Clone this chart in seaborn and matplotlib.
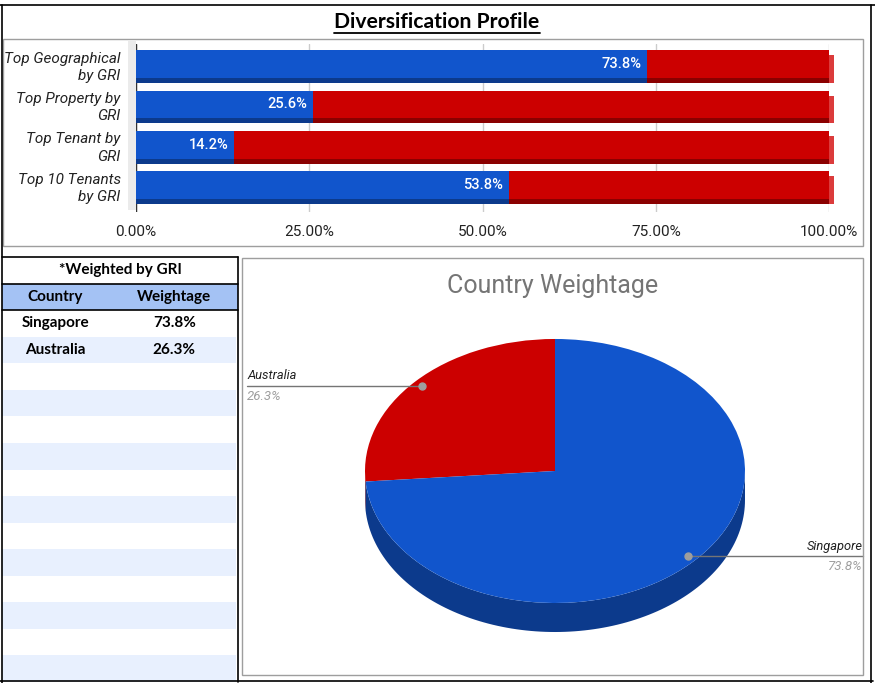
import numpy as np
import seaborn as sns
import matplotlib.pyplot as plt
from matplotlib import transforms
from matplotlib.lines import Line2D
from matplotlib.patches import Rectangle

# ---- data ----
metric_labels = ["Top Geographical\nby GRI", "Top Property by\nGRI",
                 "Top Tenant by\nGRI", "Top 10 Tenants\nby GRI"]
top_pct = [73.8, 25.6, 14.2, 53.8]
full_pct = [100.0, 100.0, 100.0, 100.0]
x_ticks = [0, 25, 50, 75, 100]
x_tick_labels = ["0.00%", "25.00%", "50.00%", "75.00%", "100.00%"]

pie_countries = ["Australia", "Singapore"]
pie_weights = [26.3, 73.8]

table_title = "*Weighted by GRI"
table_header = ["Country", "Weightage"]
table_countries = ["Singapore", "Australia"]
table_weights = [73.8, 26.3]
table_empty_rows = 12

BLUE = "#1155cc"
BLUE_DARK = "#0c3a8c"
RED = "#cc0000"
RED_DARK = "#8a0000"
RED_SIDE = "#db3b3b"
HEADER_BLUE = "#a4c2f4"
STRIPE = "#e8f0fe"
TEXT = "#222222"

W, H = 875, 683

sns.set_style("white")
plt.rcParams["font.family"] = ["Roboto", "DejaVu Sans"]
SHEET_FONT = ["Lato", "DejaVu Sans"]

fig = plt.figure(figsize=(W / 100, H / 100), dpi=100)


def px_axes(x0, y0, x1, y1):
    return fig.add_axes([x0 / W, 1 - y1 / H, (x1 - x0) / W, (y1 - y0) / H])


def px_line(xs, ys, **kw):
    fig.add_artist(Line2D([x / W for x in xs], [1 - y / H for y in ys],
                          transform=fig.transFigure, **kw))


def px_rect(x0, y0, x1, y1, **kw):
    fig.add_artist(Rectangle((x0 / W, 1 - y1 / H), (x1 - x0) / W, (y1 - y0) / H,
                             transform=fig.transFigure, **kw))


# sheet borders and chart frames
px_line([0, 875], [5, 5], color="black", lw=1.2)
px_line([2, 2], [5, 683], color="black", lw=1.2)
px_line([871, 871], [5, 683], color="black", lw=1.2)
px_line([0, 873], [681, 681], color="black", lw=1.2)
px_rect(3, 39, 863, 246, fill=False, ec="#9e9e9e", lw=1)
px_rect(242, 258, 863, 675, fill=False, ec="#9e9e9e", lw=1)
px_rect(128, 41, 136, 210, fc="#ebebeb", lw=0, zorder=-1)

title = fig.text(437 / W, 1 - 22 / H, "Diversification Profile", ha="center", va="center",
                 fontsize=15.2, fontweight="bold", family=SHEET_FONT, color="black")

# ---- stacked 3D-ish bar chart ----
ax = px_axes(136, 44, 829, 212)
ax.set_facecolor("none")
layers = [
    (full_pct, RED_SIDE, (5, -5)),
    (full_pct, RED_DARK, (0, -5)),
    (full_pct, RED, (0, 0)),
    (top_pct, BLUE_DARK, (0, -5)),
    (top_pct, BLUE, (0, 0)),
]
for values, colour, (dx, dy) in layers:
    n = len(ax.patches)
    sns.barplot(x=values, y=metric_labels, orient="h", color=colour, saturation=1,
                width=0.69, linewidth=0, errorbar=None, ax=ax)
    shift = transforms.offset_copy(ax.transData, fig=fig, x=dx, y=dy, units="dots")
    for p in ax.patches[n:]:
        p.set_transform(shift)
        p.set_clip_on(False)

lab_shift = transforms.offset_copy(ax.transData, fig=fig, x=-6, y=0, units="dots")
for i, v in enumerate(top_pct):
    ax.text(v, i, f"{v:.1f}%", transform=lab_shift, ha="right", va="center",
            color="white", fontsize=10.5, fontweight="medium")

ax.set_xlim(0, 100)
ax.set_ylim(3.669, -0.5)
ax.set_xticks(x_ticks, x_tick_labels)
ax.xaxis.grid(True, color="#cccccc", lw=1)
ax.yaxis.grid(False)
ax.set_axisbelow(True)
ax.axvline(0, color="#333333", lw=1, zorder=0.6)
ax.tick_params(axis="x", length=0, pad=9, labelsize=11, labelcolor=TEXT)
ax.tick_params(axis="y", length=0, pad=11, labelsize=11, labelcolor=TEXT)
for t in ax.get_yticklabels():
    t.set_fontstyle("italic")
    t.set_linespacing(1.3)
ax.set_xlabel("")
ax.set_ylabel("")
sns.despine(ax=ax, left=True, bottom=True)

# ---- table ----
tax = px_axes(2, 257, 238, 682)
n_rows = 2 + len(table_countries) + table_empty_rows
tax.set_xlim(0, 1)
tax.set_ylim(n_rows, 0)
tax.axis("off")
tax.axhspan(1, 2, color=HEADER_BLUE, lw=0)
for r in range(2, n_rows):
    if (r - 2) % 2 == 1:
        tax.axhspan(r, r + 1, xmax=0.99, color=STRIPE, lw=0)
for y in (0, 1, 2):
    tax.axhline(y, color="black", lw=1.2, clip_on=False)
tax.axvline(1, color="black", lw=1.2, clip_on=False)

cell_kw = dict(ha="center", va="center", fontsize=11, fontweight="bold",
               family=SHEET_FONT, color="black")
col_x = [0.225, 0.73]
tax.text(0.5, 0.5, table_title, **cell_kw)
for cx, h in zip(col_x, table_header):
    tax.text(cx, 1.5, h, **cell_kw)
for r, (name, w) in enumerate(zip(table_countries, table_weights), start=2):
    tax.text(col_x[0], r + 0.5, name, **cell_kw)
    tax.text(col_x[1], r + 0.5, f"{w:.1f}%", **cell_kw)

# ---- 3D pie ----
fig.text(553 / W, 1 - 286 / H, "Country Weightage", ha="center", va="center",
         fontsize=18, color="#757575")
pax = px_axes(340, 330, 770, 650)
wedges, _ = pax.pie(pie_weights, colors=[RED, BLUE], startangle=90, counterclock=True,
                    wedgeprops=dict(linewidth=0))
pax.set_aspect("auto")
pax.set_xlim(-1.1316, 1.1316)
pax.set_ylim(-1.356, 1.068)
pax.axis("off")

depth = 29 / 132
for w, side_colour in zip(wedges, [RED_DARK, BLUE_DARK]):
    lo, hi = max(w.theta1, 180), min(w.theta2, 360)
    if hi <= lo:
        continue
    ts = np.radians(np.linspace(lo, hi, 120))
    xs = np.concatenate([np.cos(ts), np.cos(ts[::-1])])
    ys = np.concatenate([np.sin(ts), np.sin(ts[::-1]) - depth])
    pax.fill(xs, ys, color=side_colour, lw=0, zorder=0.5)

for w, name, val in zip(wedges, pie_countries, pie_weights):
    mid = np.radians((w.theta1 + w.theta2) / 2)
    dx, dy = 0.95 * np.cos(mid), 0.95 * np.sin(mid)
    side = np.sign(dx)
    end = side * 1.62
    ha = "right" if side > 0 else "left"
    pax.plot([dx, end], [dy, dy], color="#757575", lw=1, clip_on=False, zorder=3)
    pax.plot(dx, dy, "o", color="#9e9e9e", ms=5, clip_on=False, zorder=4)
    pax.annotate(name, (end, dy), xytext=(0, 2.5), textcoords="offset points", ha=ha,
                 va="bottom", fontsize=9.3, fontstyle="italic", color=TEXT,
                 annotation_clip=False)
    pax.annotate(f"{val:.1f}%", (end, dy), xytext=(0, -3), textcoords="offset points",
                 ha=ha, va="top", fontsize=9.5, fontstyle="italic", color="#9e9e9e",
                 annotation_clip=False)

# underline the sheet title
fig.canvas.draw()
bb = title.get_window_extent()
px_line([bb.x0, bb.x1], [33, 33], color="black", lw=1.3)

fig.savefig("out.png", dpi=100)
